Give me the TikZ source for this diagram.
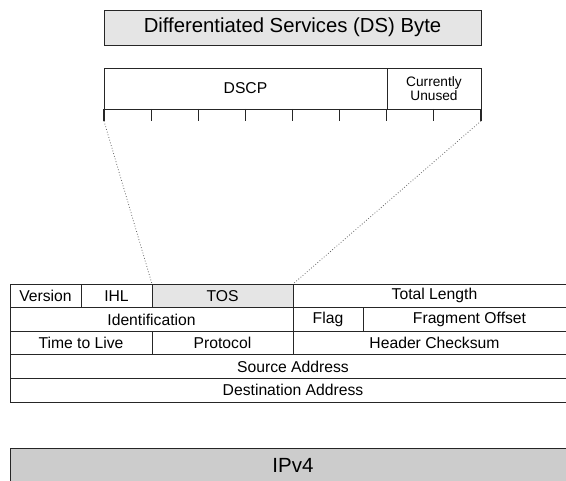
\documentclass[tikz,border=0pt]{standalone}
\usepackage{fontspec}
\setmainfont{Liberation Sans}
\usetikzlibrary{positioning,calc}

\tikzset{
  box/.style={draw=black!85, line width=0.9pt, inner sep=0pt, outer sep=0pt,
    anchor=north west, align=center},
  field/.style={box, minimum height=23.6pt, font=\fontsize{15.7}{17}\selectfont},
  tick/.style={draw=black!85, line width=1.2pt},
  zoomline/.style={draw=black!60, line width=0.8pt, dotted}
}

\begin{document}
\begin{tikzpicture}[x=1pt, y=-1pt]
\useasboundingbox (0,0) rectangle (566,481);

% --- DS byte title ---
\node[box, fill=gray!20, minimum width=377pt, minimum height=35pt,
      font=\fontsize{20.3}{22}\selectfont] (dsbyte) at (104,10)
      {Differentiated Services (DS) Byte};

% --- DS byte layout ---
\node[box, minimum width=283pt, minimum height=41pt,
      font=\fontsize{15.7}{17}\selectfont] (dscp) at (104,68) {DSCP};
\node[box, minimum width=94pt, minimum height=41pt,
      font=\fontsize{13.7}{13.5}\selectfont] (unused) at (dscp.north east)
      {Currently\\Unused};

% bit ticks under the byte
\foreach \i in {0,...,8}
  \draw[tick] ($(dscp.south west)+(47.125*\i,0)$) -- ++(0,12);
\coordinate (bitfirst) at ($(dscp.south west)+(0,12)$);
\coordinate (bitlast) at ($(unused.south east)+(0,12)$);

% --- IPv4 header ---
% row 1
\node[field, minimum width=71pt] (version) at (10,284) {Version};
\node[field, minimum width=71pt] (ihl) at (version.north east) {IHL};
\node[field, minimum width=141pt, fill=gray!20] (tos) at (ihl.north east) {TOS};
\node[field, minimum width=283pt] (totallen) at (tos.north east) {Total Length};
% row 2
\node[field, minimum width=283pt] (ident) at (version.south west) {Identification};
\node[field, minimum width=70pt] (flag) at (ident.north east) {Flag};
\node[field, minimum width=213pt] (fragoff) at (flag.north east) {Fragment Offset};
% row 3
\node[field, minimum width=142pt] (ttl) at (ident.south west) {Time to Live};
\node[field, minimum width=141pt] (proto) at (ttl.north east) {Protocol};
\node[field, minimum width=283pt] (checksum) at (proto.north east) {Header Checksum};
% rows 4 and 5
\node[field, minimum width=566pt] (srcaddr) at (ttl.south west) {Source Address};
\node[field, minimum width=566pt] (dstaddr) at (srcaddr.south west) {Destination Address};

% TOS expands into the DS byte
\draw[zoomline] (bitfirst) -- (tos.north west);
\draw[zoomline] (bitlast) -- (tos.north east);

% --- protocol bar ---
\node[box, fill=gray!40, minimum width=566pt, inner sep=3pt,
      text height=21.5pt, text depth=20pt,
      font=\fontsize{20.5}{22}\selectfont] (ipv4) at (10,448) {IPv4};

\end{tikzpicture}
\end{document}
